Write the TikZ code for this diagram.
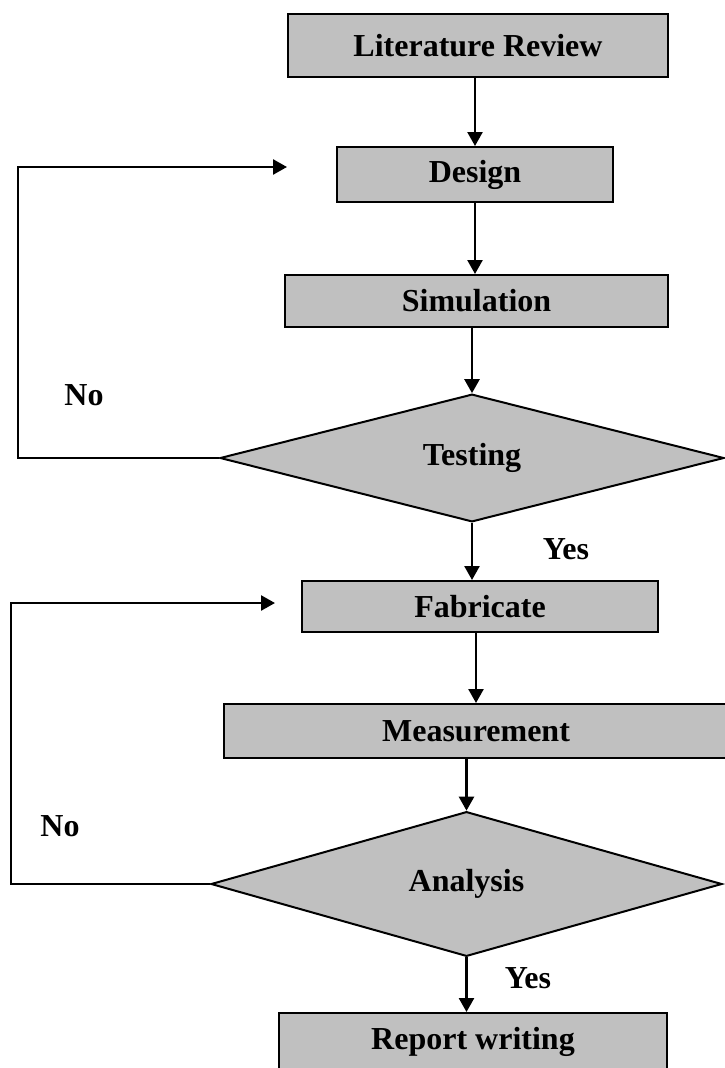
\documentclass[tikz,border=0pt]{standalone}
\usepackage{fontspec}
\setmainfont{Liberation Serif}
\usepackage{tikz}
\usetikzlibrary{shapes.geometric,arrows.meta}
\definecolor{stepgray}{RGB}{192,192,192}

\tikzset{
  procbox/.style={draw, line width=2pt, fill=stepgray, rectangle, inner sep=0pt},
  decision/.style={draw, line width=2pt, fill=stepgray, diamond, inner sep=0pt},
  flow/.style={line width=2.5pt, -{Triangle[length=14pt,width=15pt]}},
  answer/.style={inner sep=0pt}
}

\begin{document}
\begin{tikzpicture}[x=1pt,y=-1pt,font=\bfseries\fontsize{32}{38}\selectfont]
\useasboundingbox (0,0) rectangle (724,1068);

\draw (478,45.5) node[procbox, minimum width=380, minimum height=63] (lit) {Literature Review};
  \draw (475,174.5) node[procbox, minimum width=276, minimum height=55] (design) {Design};
  \draw (476.5,301) node[procbox, minimum width=383, minimum height=52] (sim) {Simulation};
  \draw (472,458) node[decision, minimum width=504, minimum height=121] (testing) {Testing};
  \draw (480,606.5) node[procbox, minimum width=356, minimum height=51] (fab) {Fabricate};
  \draw (476,731) node[procbox, minimum width=504, minimum height=54] (meas) {Measurement};
  \draw (466.5,884) node[decision, minimum width=511, minimum height=108] (analysis) {Analysis};
  \draw (473,1041.5) node[procbox, minimum width=388, minimum height=57] (report) {Report writing};

  \draw (84,395) node[answer] (no1) {No};
  \draw (566,549) node[answer] (yes1) {Yes};
  \draw (60,826) node[answer] (no2) {No};
  \draw (528,978) node[answer] (yes2) {Yes};

  \coordinate (back1) at (287,167);
  \coordinate (back2) at (275,603);

     \draw[flow] (lit.south -| design.north) -- (design.north);
     \draw[flow] (design.south) -- (design.south |- sim.north);
     \draw[flow] (testing.north |- sim.south) -- (testing.north);
     \draw[flow] (testing.south) -- (testing.south |- fab.north);
     \draw[flow] (meas.north |- fab.south) -- (meas.north);
     \draw[flow] (analysis.north |- meas.south) -- (analysis.north);
     \draw[flow] (analysis.south) -- (analysis.south |- report.north);

     \draw[flow] (testing.west) -- ++(-201,0) |- (back1);
     \draw[flow] (analysis.west) -- ++(-199,0) |- (back2);

\end{tikzpicture}
\end{document}
